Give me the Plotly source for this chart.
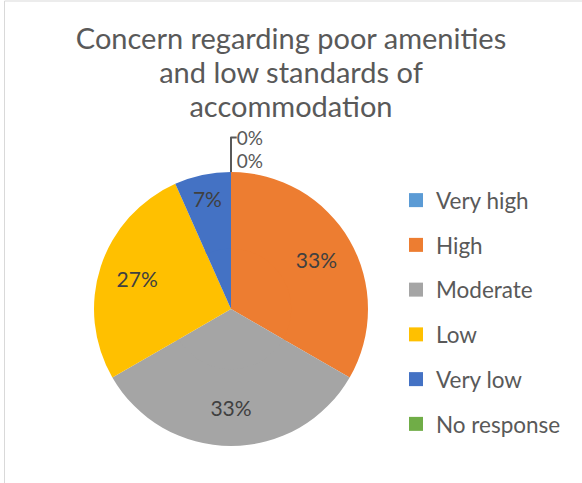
import plotly.graph_objects as go

categories = ["Very high", "High", "Moderate", "Low", "Very low", "No response"]
counts = [0, 5, 5, 4, 1, 0]
colors = ["#5B9BD5", "#ED7D31", "#A5A5A5", "#FFC000", "#4472C4", "#70AD47"]
title_lines = ["Concern regarding poor amenities", "and low standards of", "accommodation"]

W, H = 582, 483
cx, cy, r = 231, 309, 137
hole = 0.44


def dom(rad):
    return dict(x=[(cx - rad) / W, (cx + rad) / W], y=[1 - (cy + rad) / H, 1 - (cy - rad) / H])


fig = go.Figure()
# inner filler (same data, no text) so the label ring reads as a full pie
fig.add_trace(go.Pie(
    labels=categories, values=counts, sort=False, direction="clockwise", rotation=0,
    marker=dict(colors=colors, line=dict(width=0)),
    textinfo="none", showlegend=False, hoverinfo="label+percent",
    domain=dom(r * hole + 3),
))
# main pie with data labels
fig.add_trace(go.Pie(
    labels=categories, values=counts, sort=False, direction="clockwise", rotation=0,
    hole=hole,
    marker=dict(colors=colors, line=dict(width=0)),
    texttemplate="%{percent:.0%}",
    textposition=["outside" if v == 0 else "inside" for v in counts],
    insidetextorientation="horizontal",
    textfont=dict(family="Lato", size=21, color="#404040"),
    outsidetextfont=dict(family="Lato", size=19, color="#595959"),
    showlegend=False, hoverinfo="label+percent",
    domain=dom(r),
))

for i, (cat, col) in enumerate(zip(categories, colors)):
    fig.add_trace(go.Scatter(
        x=[None], y=[None], mode="markers", name=cat,
        marker=dict(symbol="square", size=14, color=col),
        legendgroup=f"g{i}", showlegend=True,
    ))

title_html = "<br>".join(f"<span style='font-size:29px'>{t}</span>" for t in title_lines)

fig.update_layout(
    width=W, height=H,
    margin=dict(l=0, r=0, t=0, b=0),
    paper_bgcolor="white", plot_bgcolor="white",
    xaxis=dict(visible=False), yaxis=dict(visible=False),
    title=dict(text=title_html, x=0.5, xanchor="center", y=1 - 49 / H, yanchor="top",
               font=dict(family="Lato", size=26, color="#595959")),
    legend=dict(x=396 / W, xanchor="left", y=1 - 179 / H, yanchor="top",
                font=dict(family="Lato", size=22.5, color="#595959"),
                tracegroupgap=12.5, bgcolor="rgba(0,0,0,0)"),
    shapes=[dict(type="rect", xref="paper", yref="paper",
                 x0=4.5 / W, x1=1.2, y0=-0.2, y1=1 - 1 / H,
                 line=dict(color="#D9D9D9", width=1), fillcolor="rgba(0,0,0,0)")],
)

fig.write_html("out.html", config={"displayModeBar": False},
               post_script="document.body.style.margin='0px';")
